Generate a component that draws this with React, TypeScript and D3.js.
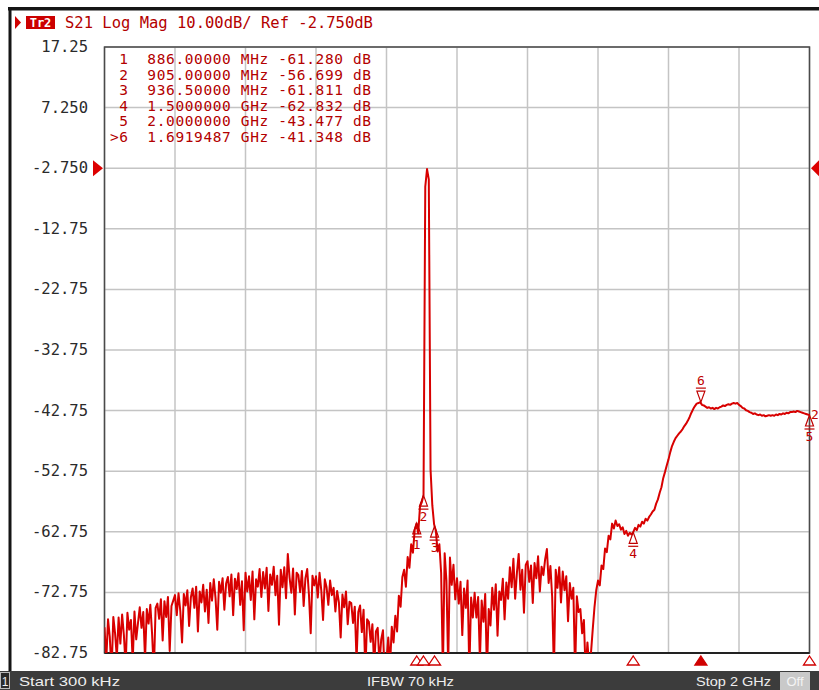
import * as d3 from "d3";
import React from "react";

// sweep
const startGHz = 0.0003;
const stopGHz = 2.0;
const refLevel = -2.75;

const yTickValues = [17.25, 7.25, -2.75, -12.75, -22.75, -32.75, -42.75, -52.75, -62.75, -72.75, -82.75];
const yTickLabels = ["17.25", "7.250", "-2.750", "-12.75", "-22.75", "-32.75", "-42.75", "-52.75", "-62.75", "-72.75", "-82.75"];

// markers
const markerIds = ["1", "2", "3", "4", "5", ">6"];
const markerFreqText = ["886.00000", "905.00000", "936.50000", "1.5000000", "2.0000000", "1.6919487"];
const markerUnits = ["MHz", "MHz", "MHz", "GHz", "GHz", "GHz"];
const markerGHz = [0.886, 0.905, 0.9365, 1.5, 2.0, 1.6919487];
const markerDb = [-61.28, -56.699, -61.811, -62.832, -43.477, -41.348];

// S21 trace, 401 sweep points (dB)
const s21 = [
  -78.5, -84, -77.2, -80.1, -86, -76.8, -79.5, -83.5, -76.9, -81.2,
  -76.4, -79.8, -85, -76.1, -78.9, -77.3, -84.2, -75.9, -80.5, -77.8,
  -75.2, -78.6, -76.0, -83.8, -75.5, -77.9, -74.8, -79.6, -86, -75.3,
  -74.6, -77.1, -73.9, -80.7, -74.2, -76.8, -73.5, -82.4, -75.0, -74.1,
  -73.2, -76.5, -72.9, -75.8, -81.0, -73.0, -74.9, -72.4, -78.3, -73.6,
  -72.1, -75.3, -71.8, -79.2, -72.6, -74.4, -71.5, -75.9, -72.3, -77.8,
  -71.2, -74.1, -70.6, -73.7, -78.9, -71.0, -72.8, -70.4, -75.6, -71.3,
  -70.2, -73.4, -69.8, -76.5, -70.5, -72.2, -69.6, -74.8, -70.9, -79.0,
  -69.5, -72.6, -70.1, -74.0, -69.3, -77.2, -70.6, -71.8, -68.9, -73.5,
  -69.4, -72.1, -68.7, -75.8, -69.8, -71.5, -68.5, -73.2, -70.0, -78.1,
  -69.0, -71.9, -68.6, -73.7, -66.4, -70.3, -72.8, -68.8, -76.4, -69.5,
  -69.9, -72.7, -69.2, -75.0, -70.4, -68.9, -73.1, -79.5, -70.0, -71.6,
  -70.1, -73.6, -69.5, -72.4, -77.3, -70.6, -71.9, -74.8, -70.8, -73.2,
  -72.0, -75.9, -72.5, -74.4, -80.2, -73.1, -75.2, -72.6, -78.0, -74.3,
  -74.5, -77.8, -75.1, -84, -76.0, -74.9, -79.3, -75.6, -86, -77.2,
  -77.6, -80.9, -78.0, -85, -79.2, -78.6, -84.5, -80.5, -79.0, -87,
  -84, -80.2, -85, -78.4, -81.0, -76.6, -79.2, -73.3, -75.1, -70.2,
  -69.0, -71.8, -66.9, -68.7, -64.8, -66.2, -62.4, -61.4, -63.0, -58.6,
  -57.9, -56.7, -5.8, -2.9, -4.6, -52.5, -58.4, -61.5, -62.6, -66.0,
  -64.8, -69.5, -86, -66.3, -70.8, -85, -67.0, -71.5, -68.2, -73.9,
  -70.4, -74.6, -71.0, -79.8, -72.1, -75.3, -70.8, -86, -73.6, -76.9,
  -72.8, -76.9, -73.5, -84, -74.1, -77.6, -73.0, -86, -75.5, -78.2,
  -72.0, -75.6, -71.4, -79.9, -72.6, -74.0, -70.5, -77.2, -71.1, -73.8,
  -68.6, -71.9, -67.2, -73.8, -69.5, -66.4, -72.3, -69.0, -76.1, -68.2,
  -67.6, -71.0, -68.3, -74.5, -67.9, -70.4, -66.8, -72.6, -68.5, -69.9,
  -67.3, -65.6, -71.2, -68.4, -73.5, -86, -69.0, -72.0, -68.6, -74.4,
  -69.3, -72.4, -70.1, -77.5, -71.2, -73.8, -72.0, -86, -73.4, -76.0,
  -75.5, -79.5, -77.3, -86, -81.0, -85, -82.8, -78.9, -75.2, -72.4,
  -70.8, -71.6, -68.3, -68.9, -65.5, -66.1, -63.4, -64.0, -61.4, -62.2,
  -60.9, -61.8, -61.5, -62.4, -62.0, -63.1, -62.6, -63.4, -62.9, -63.2,
  -62.8, -62.1, -62.5, -61.6, -61.9, -61.1, -61.4, -60.6, -60.9, -60.3,
  -59.9, -59.4, -59.1, -58.1, -57.4, -56.3, -55.4, -53.9, -52.9, -51.8,
  -50.8, -49.6, -48.6, -47.9, -47.3, -46.9, -46.5, -46.2, -45.8, -45.3,
  -44.9, -44.4, -43.8, -43.1, -42.5, -42.0, -41.6, -41.5, -41.35, -41.8,
  -41.9, -42.1, -42.3, -42.2, -42.4, -42.3, -42.5, -42.3, -42.4, -42.2,
  -42.1, -41.9, -42.0, -41.8, -41.7, -41.8, -41.6, -41.5, -41.6, -41.5,
  -41.8, -42.0, -42.3, -42.4, -42.7, -42.8, -43.0, -43.1, -43.3, -43.2,
  -43.4, -43.5, -43.4, -43.6, -43.5, -43.7, -43.6, -43.5, -43.6, -43.5,
  -43.6, -43.4, -43.5, -43.3, -43.4, -43.2, -43.3, -43.1, -43.2, -43.0,
  -43.0, -42.9, -43.0, -42.8, -42.9, -43.0, -43.1, -43.2, -43.3, -43.4,
  -43.48,
];

const mono = "'DejaVu Sans Mono', 'Liberation Mono', monospace";
const narrow = "'Liberation Sans Narrow', 'Liberation Sans', Arial, sans-serif";
const textRed = "#b30000";
const traceRed = "#d80000";

export default function App() {
  const W = 819;
  const H = 690;
  const plot = { left: 104.5, right: 809.5, top: 47, bottom: 653 };

  const x = d3.scaleLinear().domain([startGHz, stopGHz]).range([plot.left, plot.right]);
  const y = d3.scaleLinear().domain([-82.75, 17.25]).range([plot.bottom, plot.top]);

  const sweep = s21.map((_, i) => startGHz + (i * (stopGHz - startGHz)) / (s21.length - 1));
  const line = d3
    .line<number>()
    .x((_, i) => x(sweep[i]))
    .y((d) => y(d));

  const xGrid = d3.range(11).map((k) => x(startGHz + (k * (stopGHz - startGHz)) / 10));
  const yRef = y(refLevel);

  return (
    <div style={{ position: "absolute", left: 0, top: 0 }}>
      <svg width={W} height={H} style={{ display: "block", background: "#fff" }}>
        <defs>
          <clipPath id="plotClip">
            <rect x={plot.left} y={plot.top} width={plot.right - plot.left} height={plot.bottom - plot.top} />
          </clipPath>
        </defs>

        {/* outer frame */}
        <rect x={8} y={7} width={W - 8} height={3.5} fill="#151515" />
        <rect x={8.5} y={7} width={3} height={665} fill="#151515" />

        {/* header */}
        <path d="M15,16 L21,22.5 L15,29 Z" fill="#d00000" />
        <rect x={26} y={16} width={29} height={13} fill="#cc0000" />
        <text x={40.5} y={27} fill="#fff" fontFamily={mono} fontSize={12} fontWeight="bold" textAnchor="middle">
          Tr2
        </text>
        <text x={65} y={28} fill={textRed} fontFamily={mono} fontSize={15.5}>
          S21 Log Mag 10.00dB/ Ref -2.750dB
        </text>

        {/* grid */}
        <g stroke="#c4c4c4" strokeWidth={1.5}>
          {xGrid.map((gx, i) => (
            <line key={"gx" + i} x1={gx} x2={gx} y1={plot.top} y2={plot.bottom} />
          ))}
          {yTickValues.map((v, i) => (
            <line key={"gy" + i} x1={plot.left} x2={plot.right} y1={y(v)} y2={y(v)} />
          ))}
        </g>
        <rect
          x={plot.left}
          y={plot.top}
          width={plot.right - plot.left}
          height={plot.bottom - plot.top}
          fill="none"
          stroke="#4a4a4a"
          strokeWidth={1.5}
        />
        <line x1={plot.left} x2={plot.right} y1={plot.bottom} y2={plot.bottom} stroke="#222" strokeWidth={2} />

        {/* y tick labels */}
        {yTickValues.map((v, i) => (
          <text
            key={"yl" + i}
            x={88}
            y={y(v) + 5}
            textAnchor="end"
            fontFamily={mono}
            fontSize={15.5}
            fill="#2a2a2a"
          >
            {yTickLabels[i]}
          </text>
        ))}

        {/* reference level arrows */}
        <path d={`M93,${yRef - 8} L103,${yRef} L93,${yRef + 8} Z`} fill="#dd0000" />
        <path d={`M819,${yRef - 8} L811,${yRef} L819,${yRef + 8} Z`} fill="#dd0000" />

        {/* marker table */}
        {markerIds.map((id, i) => (
          <text
            key={"mt" + i}
            x={110}
            y={64 + i * 15.6}
            fontFamily={mono}
            fontSize={14.5}
            textLength={261}
            lengthAdjust="spacing"
            fill={textRed}
            style={{ whiteSpace: "pre" }}
          >
            {`${id.padStart(2, " ")}  ${markerFreqText[i]} ${markerUnits[i]} ${markerDb[i].toFixed(3)} dB`}
          </text>
        ))}

        {/* trace */}
        <path
          d={line(s21) || ""}
          fill="none"
          stroke={traceRed}
          strokeWidth={2}
          strokeLinejoin="round"
          clipPath="url(#plotClip)"
        />

        {/* markers on trace */}
        {markerIds.map((id, i) => {
          const px = x(markerGHz[i]);
          const py = y(markerDb[i]);
          const active = id.startsWith(">");
          const label = id.replace(">", "");
          if (active) {
            return (
              <g key={"mk" + i} stroke="#c00000" strokeWidth={1.2} fill="none">
                <path d={`M${px},${py} L${px - 4},${py - 11} L${px + 4},${py - 11} Z`} />
                <line x1={px - 5} x2={px + 5} y1={py - 14} y2={py - 14} />
                <text x={px} y={py - 17} textAnchor="middle" fontFamily={mono} fontSize={13} fill="#c00000" stroke="none">
                  {label}
                </text>
              </g>
            );
          }
          return (
            <g key={"mk" + i} stroke="#c00000" strokeWidth={1.2} fill="none">
              <path d={`M${px},${py} L${px - 4},${py + 11} L${px + 4},${py + 11} Z`} />
              <line x1={px - 5} x2={px + 5} y1={py + 14} y2={py + 14} />
              <text x={px} y={py + 26} textAnchor="middle" fontFamily={mono} fontSize={13} fill="#c00000" stroke="none">
                {label}
              </text>
            </g>
          );
        })}
        <text x={811} y={419} fontFamily={mono} fontSize={13} fill="#c00000">
          2
        </text>

        {/* stimulus markers below grid */}
        {markerIds.map((id, i) => {
          const px = x(markerGHz[i]);
          const active = id.startsWith(">");
          return (
            <path
              key={"sm" + i}
              d={`M${px},${656} L${px + 6},${665} L${px - 6},${665} Z`}
              fill={active ? "#d00000" : "#fff"}
              stroke="#d00000"
              strokeWidth={1.3}
            />
          );
        })}

        {/* status bar */}
        <rect x={0} y={671} width={W} height={19} fill="#3c3c3c" />
        <rect x={0.5} y={672.5} width={9} height={16} fill="#2a2a2a" stroke="#bbb" strokeWidth={1} />
        <text x={5} y={686} textAnchor="middle" fontFamily={narrow} fontSize={12} fill="#eee">
          1
        </text>
        <text x={19} y={686} fontFamily={narrow} fontSize={13} fill="#eee" textLength={101} lengthAdjust="spacingAndGlyphs">
          Start 300 kHz
        </text>
        <text x={367} y={686} fontFamily={narrow} fontSize={13} fill="#eee" textLength={87} lengthAdjust="spacingAndGlyphs">
          IFBW 70 kHz
        </text>
        <text x={696} y={686} fontFamily={narrow} fontSize={13} fill="#eee" textLength={75} lengthAdjust="spacingAndGlyphs">
          Stop 2 GHz
        </text>
        <rect x={780} y={672} width={30} height={18} fill="#c9c9c9" />
        <text x={795} y={686} textAnchor="middle" fontFamily={narrow} fontSize={13} fill="#f4f4f4">
          Off
        </text>
      </svg>
    </div>
  );
}
